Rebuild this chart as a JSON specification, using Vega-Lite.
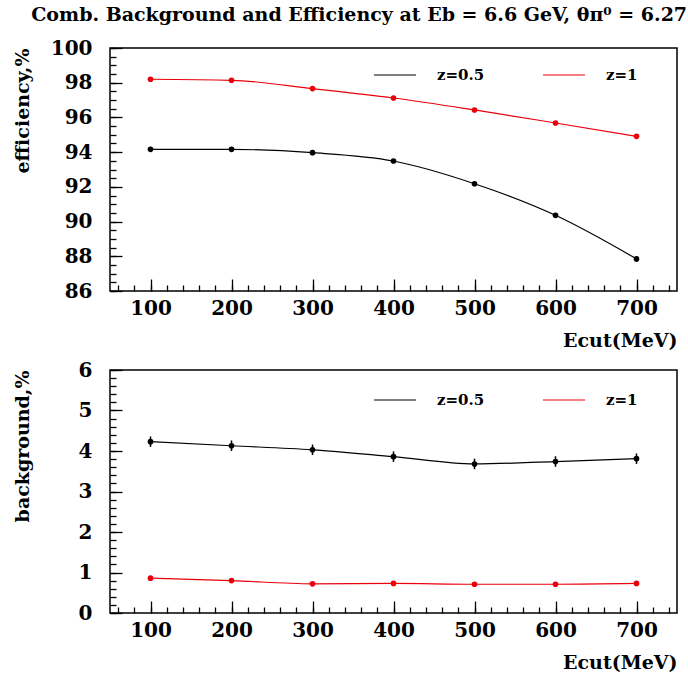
{
  "$schema": "https://vega.github.io/schema/vega-lite/v6.json",
  "title": {
    "text": "Comb.  Background and Efficiency  at  Eb = 6.6 GeV, θπ⁰ = 6.27°",
    "font": "DejaVu Serif",
    "fontWeight": "bold",
    "fontSize": 19,
    "color": "black",
    "anchor": "start",
    "frame": "bounds",
    "offset": 12,
    "dx": 19
  },
  "padding": {"left": 12, "top": 6, "right": 4, "bottom": 4},
  "spacing": 8,
  "datasets": {
    "eff": [
      {"ecut": 100, "z": "z=0.5", "val": 94.16, "lo": 94.09, "hi": 94.23},
      {"ecut": 200, "z": "z=0.5", "val": 94.16, "lo": 94.09, "hi": 94.23},
      {"ecut": 300, "z": "z=0.5", "val": 93.97, "lo": 93.9, "hi": 94.04},
      {"ecut": 400, "z": "z=0.5", "val": 93.49, "lo": 93.41, "hi": 93.57},
      {"ecut": 500, "z": "z=0.5", "val": 92.18, "lo": 92.08, "hi": 92.28},
      {"ecut": 600, "z": "z=0.5", "val": 90.36, "lo": 90.22, "hi": 90.5},
      {"ecut": 700, "z": "z=0.5", "val": 87.85, "lo": 87.7, "hi": 88.0},
      {"ecut": 100, "z": "z=1", "val": 98.2, "lo": 98.15, "hi": 98.25},
      {"ecut": 200, "z": "z=1", "val": 98.14, "lo": 98.09, "hi": 98.19},
      {"ecut": 300, "z": "z=1", "val": 97.66, "lo": 97.6, "hi": 97.72},
      {"ecut": 400, "z": "z=1", "val": 97.12, "lo": 97.06, "hi": 97.18},
      {"ecut": 500, "z": "z=1", "val": 96.43, "lo": 96.37, "hi": 96.49},
      {"ecut": 600, "z": "z=1", "val": 95.68, "lo": 95.62, "hi": 95.74},
      {"ecut": 700, "z": "z=1", "val": 94.91, "lo": 94.84, "hi": 94.98}
    ],
    "bg": [
      {"ecut": 100, "z": "z=0.5", "val": 4.23, "lo": 4.1, "hi": 4.36},
      {"ecut": 200, "z": "z=0.5", "val": 4.13, "lo": 4.0, "hi": 4.26},
      {"ecut": 300, "z": "z=0.5", "val": 4.03, "lo": 3.9, "hi": 4.16},
      {"ecut": 400, "z": "z=0.5", "val": 3.86, "lo": 3.73, "hi": 3.99},
      {"ecut": 500, "z": "z=0.5", "val": 3.68, "lo": 3.55, "hi": 3.81},
      {"ecut": 600, "z": "z=0.5", "val": 3.74, "lo": 3.61, "hi": 3.87},
      {"ecut": 700, "z": "z=0.5", "val": 3.81, "lo": 3.68, "hi": 3.94},
      {"ecut": 100, "z": "z=1", "val": 0.86, "lo": 0.83, "hi": 0.89},
      {"ecut": 200, "z": "z=1", "val": 0.8, "lo": 0.77, "hi": 0.83},
      {"ecut": 300, "z": "z=1", "val": 0.72, "lo": 0.69, "hi": 0.75},
      {"ecut": 400, "z": "z=1", "val": 0.73, "lo": 0.7, "hi": 0.76},
      {"ecut": 500, "z": "z=1", "val": 0.71, "lo": 0.68, "hi": 0.74},
      {"ecut": 600, "z": "z=1", "val": 0.71, "lo": 0.68, "hi": 0.74},
      {"ecut": 700, "z": "z=1", "val": 0.73, "lo": 0.7, "hi": 0.76}
    ]
  },
  "vconcat": [
    {
      "width": 567,
      "height": 243,
      "data": {"name": "eff"},
      "layer": [
        {
          "mark": {"type": "line", "interpolate": "monotone", "strokeWidth": 1.2},
          "encoding": {
            "x": {
              "field": "ecut", "type": "quantitative",
              "scale": {"domain": [50, 750], "nice": false, "zero": false},
              "axis": {
                "values": [100, 200, 300, 400, 500, 600, 700],
                "tickSize": -12, "labelPadding": 19,
                "title": "Ecut(MeV)", "titleX": 567, "titleY": 55,
                "titleAlign": "right", "titleBaseline": "alphabetic", "titleAnchor": "end"
              }
            },
            "y": {
              "field": "val", "type": "quantitative",
              "scale": {"domain": [86, 100], "nice": false, "zero": false},
              "axis": {
                "values": [86, 88, 90, 92, 94, 96, 98, 100],
                "tickSize": -12, "labelPadding": 30,
                "title": "efficiency,%", "titleX": -88, "titleY": 0,
                "titleAngle": 270, "titleAlign": "right", "titleBaseline": "middle", "titleAnchor": "end"
              }
            },
            "color": {
              "field": "z", "type": "nominal",
              "scale": {"domain": ["z=0.5", "z=1"], "range": ["#000000", "#e8000b"]},
              "legend": {"orient": "none", "legendX": 263, "legendY": 5}
            }
          }
        },
        {
          "mark": {"type": "rule", "strokeWidth": 1.5},
          "encoding": {
            "x": {
              "field": "ecut", "type": "quantitative",
              "axis": {
                "orient": "bottom",
                "values": [60, 80, 100, 120, 140, 160, 180, 200, 220, 240, 260, 280, 300, 320, 340, 360, 380, 400, 420, 440, 460, 480, 500, 520, 540, 560, 580, 600, 620, 640, 660, 680, 700, 720, 740],
                "tickSize": -6, "labels": false, "title": null
              }
            },
            "y": {
              "field": "lo", "type": "quantitative",
              "axis": {
                "orient": "left",
                "values": [86, 86.5, 87, 87.5, 88, 88.5, 89, 89.5, 90, 90.5, 91, 91.5, 92, 92.5, 93, 93.5, 94, 94.5, 95, 95.5, 96, 96.5, 97, 97.5, 98, 98.5, 99, 99.5, 100],
                "tickSize": -6, "labels": false, "title": null
              }
            },
            "y2": {"field": "hi"},
            "color": {"field": "z", "type": "nominal", "legend": null}
          }
        },
        {
          "mark": {"type": "point", "filled": true, "size": 32, "opacity": 1},
          "encoding": {
            "x": {"field": "ecut", "type": "quantitative", "axis": null},
            "y": {"field": "val", "type": "quantitative", "axis": null},
            "color": {"field": "z", "type": "nominal", "legend": null}
          }
        }
      ],
      "resolve": {"axis": {"x": "independent", "y": "independent"}}
    },
    {
      "width": 567,
      "height": 243,
      "data": {"name": "bg"},
      "layer": [
        {
          "mark": {"type": "line", "interpolate": "monotone", "strokeWidth": 1.2},
          "encoding": {
            "x": {
              "field": "ecut", "type": "quantitative",
              "scale": {"domain": [50, 750], "nice": false, "zero": false},
              "axis": {
                "values": [100, 200, 300, 400, 500, 600, 700],
                "tickSize": -12, "labelPadding": 19,
                "title": "Ecut(MeV)", "titleX": 567, "titleY": 55,
                "titleAlign": "right", "titleBaseline": "alphabetic", "titleAnchor": "end"
              }
            },
            "y": {
              "field": "val", "type": "quantitative",
              "scale": {"domain": [0, 6], "nice": false},
              "axis": {
                "values": [0, 1, 2, 3, 4, 5, 6],
                "tickSize": -12, "labelPadding": 30,
                "title": "background,%", "titleX": -88, "titleY": 0,
                "titleAngle": 270, "titleAlign": "right", "titleBaseline": "middle", "titleAnchor": "end"
              }
            },
            "color": {
              "field": "z", "type": "nominal",
              "scale": {"domain": ["z=0.5", "z=1"], "range": ["#000000", "#e8000b"]},
              "legend": {"orient": "none", "legendX": 263, "legendY": 8}
            }
          }
        },
        {
          "mark": {"type": "rule", "strokeWidth": 1.5},
          "encoding": {
            "x": {
              "field": "ecut", "type": "quantitative",
              "axis": {
                "orient": "bottom",
                "values": [60, 80, 100, 120, 140, 160, 180, 200, 220, 240, 260, 280, 300, 320, 340, 360, 380, 400, 420, 440, 460, 480, 500, 520, 540, 560, 580, 600, 620, 640, 660, 680, 700, 720, 740],
                "tickSize": -6, "labels": false, "title": null
              }
            },
            "y": {
              "field": "lo", "type": "quantitative",
              "axis": {
                "orient": "left",
                "values": [0, 0.2, 0.4, 0.6, 0.8, 1, 1.2, 1.4, 1.6, 1.8, 2, 2.2, 2.4, 2.6, 2.8, 3, 3.2, 3.4, 3.6, 3.8, 4, 4.2, 4.4, 4.6, 4.8, 5, 5.2, 5.4, 5.6, 5.8, 6],
                "tickSize": -6, "labels": false, "title": null
              }
            },
            "y2": {"field": "hi"},
            "color": {"field": "z", "type": "nominal", "legend": null}
          }
        },
        {
          "mark": {"type": "point", "filled": true, "size": 32, "opacity": 1},
          "encoding": {
            "x": {"field": "ecut", "type": "quantitative", "axis": null},
            "y": {"field": "val", "type": "quantitative", "axis": null},
            "color": {"field": "z", "type": "nominal", "legend": null}
          }
        }
      ],
      "resolve": {"axis": {"x": "independent", "y": "independent"}}
    }
  ],
  "resolve": {"scale": {"color": "independent"}, "legend": {"color": "independent"}},
  "config": {
    "background": "white",
    "view": {"stroke": "black", "strokeWidth": 1.5},
    "axis": {
      "domain": false,
      "grid": false,
      "tickColor": "black",
      "tickWidth": 1.3,
      "labelFont": "DejaVu Serif",
      "labelFontWeight": "bold",
      "labelFontSize": 20,
      "labelColor": "black",
      "labelFlush": false,
      "labelOverlap": false,
      "titleFont": "DejaVu Serif",
      "titleFontWeight": "bold",
      "titleFontSize": 19,
      "titleColor": "black"
    },
    "legend": {
      "direction": "horizontal",
      "title": null,
      "padding": 0,
      "symbolType": "stroke",
      "symbolSize": 1764,
      "symbolStrokeWidth": 1.2,
      "labelFont": "DejaVu Serif",
      "labelFontWeight": "bold",
      "labelFontSize": 15,
      "labelColor": "black",
      "labelOffset": 20,
      "columnPadding": 55
    }
  }
}
